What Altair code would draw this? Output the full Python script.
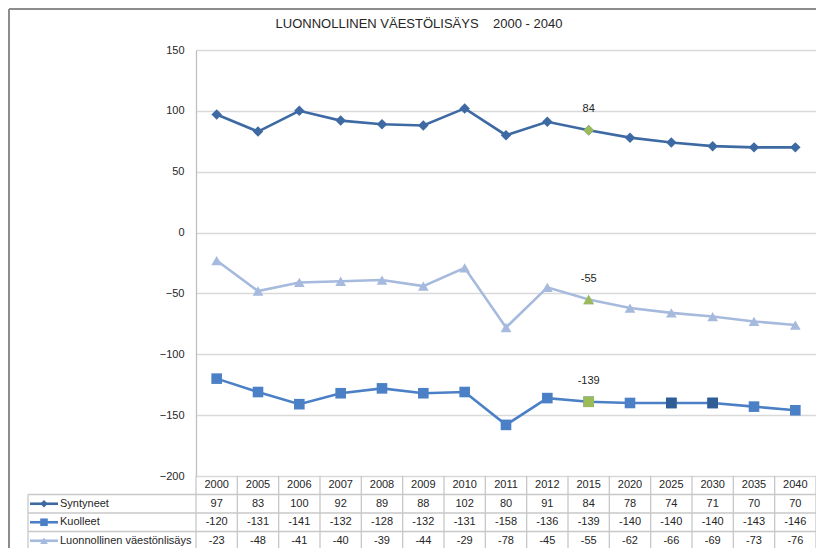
import altair as alt
import pandas as pd

# ---------------- data ----------------
years = ["2000", "2005", "2006", "2007", "2008", "2009", "2010", "2011",
         "2012", "2015", "2020", "2025", "2030", "2035", "2040"]
syntyneet = [97, 83, 100, 92, 89, 88, 102, 80, 91, 84, 78, 74, 71, 70, 70]
kuolleet = [-120, -131, -141, -132, -128, -132, -131, -158, -136, -139,
            -140, -140, -140, -143, -146]
luonnollinen = [-23, -48, -41, -40, -39, -44, -29, -78, -45, -55,
                -62, -66, -69, -73, -76]
series_names = ["Syntyneet", "Kuolleet", "Luonnollinen väestönlisäys"]
highlight_year = "2015"
dark_years = ["2025", "2030"]
y_ticks = [-200, -150, -100, -50, 0, 50, 100, 150]
title_text = "LUONNOLLINEN VÄESTÖLISÄYS\u00a0\u00a0\u00a0 2000 - 2040"

rows = []
for name, vals in zip(series_names, [syntyneet, kuolleet, luonnollinen]):
    for yr, v in zip(years, vals):
        rows.append({"year": yr, "series": name, "value": v, "label": str(v)})
df = pd.DataFrame(rows)

tbl = [{"year": yr, "row": "hdr", "label": yr} for yr in years]
tbl += [{"year": r["year"], "row": r["series"], "label": r["label"]} for r in rows]
table_df = pd.DataFrame(tbl)
legend_df = pd.DataFrame({"row": series_names, "series": series_names})

# ---------------- style ----------------
W, H = 620, 426
FONT = "Liberation Sans"
TXT = "#262626"
STEP = W / len(years)
TBL_TOP, TBL_BOT = 426, 500
ROW_H = (TBL_BOT - TBL_TOP) / 4
LEFT_COL = -168

line_colors = ["#3E6AA4", "#4C80C6", "#A6BADD"]
mark_colors = ["#3D69A3", "#4A7EC5", "#9DB3D9"]
shapes = ["diamond", "square", "triangle-up"]
green = "#9BBB59"
dark_sq = "#2F5D95"

x_enc = alt.X("year:N", sort=years,
              scale=alt.Scale(type="point", domain=years, padding=0.5),
              axis=None)
y_scale = alt.Scale(domain=[-200, 150], nice=False, zero=False)
y_axis = alt.Axis(values=y_ticks, grid=True, gridColor="#D9D9D9", gridWidth=1.3,
                  domainColor="#BFBFBF", domainWidth=1.3, ticks=False,
                  labelFont=FONT, labelFontSize=11, labelColor=TXT,
                  labelPadding=12, title=None)
y_enc = alt.Y("value:Q", scale=y_scale, axis=y_axis)

col_line = alt.Color("series:N", scale=alt.Scale(domain=series_names, range=line_colors), legend=None)
col_mark = alt.Color("series:N", scale=alt.Scale(domain=series_names, range=mark_colors), legend=None)
shape_enc = alt.Shape("series:N", scale=alt.Scale(domain=series_names, range=shapes), legend=None)
size_enc = alt.Size("series:N", scale=alt.Scale(domain=series_names, range=[110, 115, 110]), legend=None)

base = alt.Chart(df)
lines = base.mark_line(strokeWidth=2.6).encode(x=x_enc, y=y_enc, color=col_line, detail="series:N")
points = base.mark_point(filled=True, opacity=1).encode(
    x=x_enc, y=y_enc, color=col_mark, shape=shape_enc, size=size_enc)
dark_pts = base.mark_point(filled=True, opacity=1, color=dark_sq).transform_filter(
    alt.FieldOneOfPredicate(field="year", oneOf=dark_years)
).transform_filter(alt.datum.series == "Kuolleet").encode(
    x=x_enc, y=y_enc, shape=shape_enc, size=size_enc)
hl_pts = base.mark_point(filled=True, opacity=1, color=green).transform_filter(
    alt.datum.year == highlight_year).encode(x=x_enc, y=y_enc, shape=shape_enc, size=size_enc)
hl_labels = base.mark_text(font=FONT, fontSize=11, color=TXT, dy=-21, baseline="middle").transform_filter(
    alt.datum.year == highlight_year).encode(x=x_enc, y=y_enc, text="label:N")

main = alt.layer(lines, points, dark_pts, hl_pts, hl_labels)

# ---------------- data table ----------------
row_scale = alt.Scale(type="point", domain=["hdr"] + series_names,
                      range=[TBL_TOP, TBL_BOT], padding=0.5)
y_row = alt.Y("row:N", scale=row_scale, axis=None)

table_text = alt.Chart(table_df).mark_text(font=FONT, fontSize=11, color=TXT,
                                           baseline="middle", align="center").encode(
    x=x_enc, y=y_row, text="label:N")

grid_col = "#C8C8C8"
hpos = pd.DataFrame({"pos": [TBL_TOP + ROW_H * k for k in range(1, 5)]})
h_rules = alt.Chart(hpos).mark_rule(color=grid_col, strokeWidth=1.3).encode(
    y=alt.Y("pos:Q", scale=None), x=alt.value(LEFT_COL), x2=alt.value(W))
v_rules = alt.Chart(pd.DataFrame({"year": years})).mark_rule(
    color=grid_col, strokeWidth=1.3, xOffset=-STEP / 2).encode(
    x=x_enc, y=alt.value(TBL_TOP), y2=alt.value(TBL_BOT))
right_rule = alt.Chart(pd.DataFrame({"a": [0]})).mark_rule(color=grid_col, strokeWidth=1.3).encode(
    x=alt.value(W), y=alt.value(TBL_TOP), y2=alt.value(TBL_BOT))
left_rule = alt.Chart(pd.DataFrame({"a": [0]})).mark_rule(color=grid_col, strokeWidth=1.3).encode(
    x=alt.value(LEFT_COL), y=alt.value(TBL_TOP + ROW_H), y2=alt.value(TBL_BOT))

leg_lines = alt.Chart(legend_df).mark_rule(strokeWidth=2.6).encode(
    x=alt.value(LEFT_COL + 2), x2=alt.value(LEFT_COL + 30), y=y_row, color=col_line)
leg_marks = alt.Chart(legend_df).mark_point(filled=True, opacity=1).encode(
    x=alt.value(LEFT_COL + 16), y=y_row, color=col_mark, shape=shape_enc,
    size=alt.Size("series:N", scale=alt.Scale(domain=series_names, range=[55, 60, 55]), legend=None))
leg_text = alt.Chart(legend_df).mark_text(font=FONT, fontSize=11, color=TXT, align="left",
                                          baseline="middle").encode(
    x=alt.value(LEFT_COL + 32), y=y_row, text="row:N")

table = alt.layer(h_rules, v_rules, right_rule, left_rule, table_text,
                  leg_lines, leg_marks, leg_text)

# ---------------- title & frame ----------------
one = pd.DataFrame({"t": [title_text]})
title = alt.Chart(one).mark_text(font=FONT, fontSize=13, color=TXT, align="center",
                                 baseline="middle").encode(
    x=alt.value(223), y=alt.value(-26), text="t:N")
frame_top = alt.Chart(one).mark_rule(color="#8C8C8C", strokeWidth=2).encode(
    x=alt.value(-187), x2=alt.value(W), y=alt.value(-41))
frame_left = alt.Chart(one).mark_rule(color="#8C8C8C", strokeWidth=2).encode(
    x=alt.value(-187), y=alt.value(-41), y2=alt.value(TBL_BOT + 74))

chart = alt.layer(main, table, title, frame_top, frame_left).resolve_scale(
    y="independent", color="independent", shape="independent", size="independent"
).properties(
    width=W, height=H,
    padding={"left": 188, "top": 42, "right": 0, "bottom": 72},
    autosize=alt.AutoSizeParams(type="none"),
    background="white",
).configure_view(stroke=None)

chart.save("out.html", embed_options={"renderer": "svg", "actions": False})
